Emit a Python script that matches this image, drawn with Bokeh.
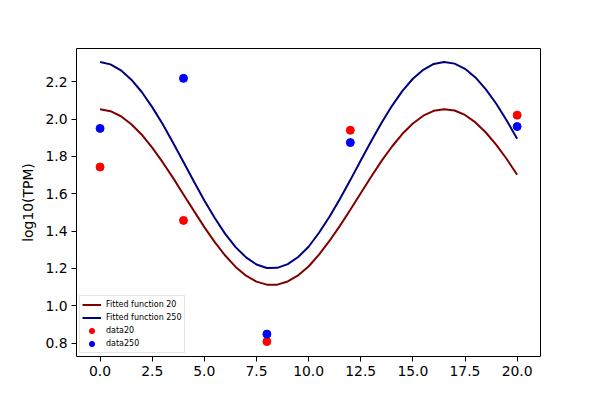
from bokeh.plotting import figure
from bokeh.models import (Range1d, FixedTicker, PrintfTickFormatter, Legend, LegendItem)
from bokeh.embed import file_html
from bokeh.resources import INLINE

# ---- data ----
fit_x = [0.0, 0.5, 1.0, 1.5, 2.0, 2.5, 3.0, 3.5, 4.0, 4.5, 5.0, 5.5, 6.0, 6.5, 7.0,
         7.5, 8.0, 8.5, 9.0, 9.5, 10.0, 10.5, 11.0, 11.5, 12.0, 12.5, 13.0, 13.5,
         14.0, 14.5, 15.0, 15.5, 16.0, 16.5, 17.0, 17.5, 18.0, 18.5, 19.0, 19.5, 20.0]
fit20 = [2.053, 2.042, 2.015, 1.972, 1.916, 1.847, 1.769, 1.685, 1.596, 1.508, 1.421,
         1.341, 1.269, 1.208, 1.161, 1.129, 1.113, 1.113, 1.130, 1.163, 1.210, 1.274,
         1.347, 1.428, 1.514, 1.603, 1.691, 1.776, 1.853, 1.921, 1.976, 2.018, 2.044,
         2.053, 2.046, 2.022, 1.982, 1.928, 1.862, 1.786, 1.702]
fit250 = [2.306, 2.293, 2.261, 2.211, 2.145, 2.064, 1.973, 1.873, 1.770, 1.666, 1.564,
          1.470, 1.385, 1.314, 1.259, 1.221, 1.202, 1.203, 1.223, 1.261, 1.316, 1.391,
          1.477, 1.572, 1.673, 1.778, 1.881, 1.980, 2.071, 2.151, 2.216, 2.264, 2.295,
          2.306, 2.297, 2.269, 2.223, 2.159, 2.082, 1.992, 1.894]
data_x = [0, 4, 8, 12, 20]
data20 = [1.743, 1.457, 0.808, 1.940, 2.021]
data250 = [1.950, 2.218, 0.848, 1.874, 1.960]
x_ticks = [0, 2.5, 5, 7.5, 10, 12.5, 15, 17.5, 20]
y_ticks = [0.8, 1.0, 1.2, 1.4, 1.6, 1.8, 2.0, 2.2]

FONT = "DejaVu Sans"

p = figure(width=584, height=384, output_backend="svg", toolbar_location=None,
           x_range=Range1d(-1.13, 21.12), y_range=Range1d(0.728, 2.378),
           min_border_left=76, min_border_right=44, min_border_top=48,
           min_border_bottom=28)
p.background_fill_color = "white"
p.border_fill_color = "white"
p.outline_line_color = "black"
p.outline_line_width = 1
p.xgrid.visible = False
p.ygrid.visible = False

for ax in (p.xaxis[0], p.yaxis[0]):
    ax.axis_line_color = None
    ax.major_tick_in = 0
    ax.major_tick_out = 5
    ax.minor_tick_line_color = None
    ax.major_tick_line_color = "black"
    ax.major_label_text_font = FONT
    ax.major_label_text_font_size = "13.9px"
    ax.major_label_text_color = "black"
    ax.major_label_standoff = 4
    ax.formatter = PrintfTickFormatter(format="%.1f")

p.xaxis[0].ticker = FixedTicker(ticks=x_ticks)
p.yaxis[0].ticker = FixedTicker(ticks=y_ticks)
p.yaxis[0].axis_label = "log10(TPM)"
p.yaxis[0].axis_label_text_font = FONT
p.yaxis[0].axis_label_text_font_size = "13.9px"
p.yaxis[0].axis_label_text_font_style = "normal"
p.yaxis[0].axis_label_text_color = "black"
p.yaxis[0].axis_label_standoff = 6

l20 = p.line(fit_x, fit20, line_color="#800000", line_width=2)
l250 = p.line(fit_x, fit250, line_color="#000080", line_width=2)
s20 = p.scatter(data_x, data20, size=8, fill_color="#ff0000", line_color="#ff0000")
s250 = p.scatter(data_x, data250, size=8, fill_color="#0000ff", line_color="#0000ff")

legend = Legend(items=[
    LegendItem(label="Fitted function 20", renderers=[l20]),
    LegendItem(label="Fitted function 250", renderers=[l250]),
    LegendItem(label="data20", renderers=[s20]),
    LegendItem(label="data250", renderers=[s250]),
], location="bottom_left")
legend.label_text_font = FONT
legend.label_text_font_size = "8px"
legend.label_text_color = "black"
legend.glyph_width = 19
legend.glyph_height = 13
legend.label_height = 13
legend.label_standoff = 5
legend.spacing = 0
legend.padding = 2
legend.margin = 3
legend.border_line_color = "#cccccc"
legend.border_line_width = 1
legend.background_fill_color = "white"
legend.background_fill_alpha = 0.8
p.add_layout(legend, "center")

open("out.html", "w").write(file_html(p, INLINE))
